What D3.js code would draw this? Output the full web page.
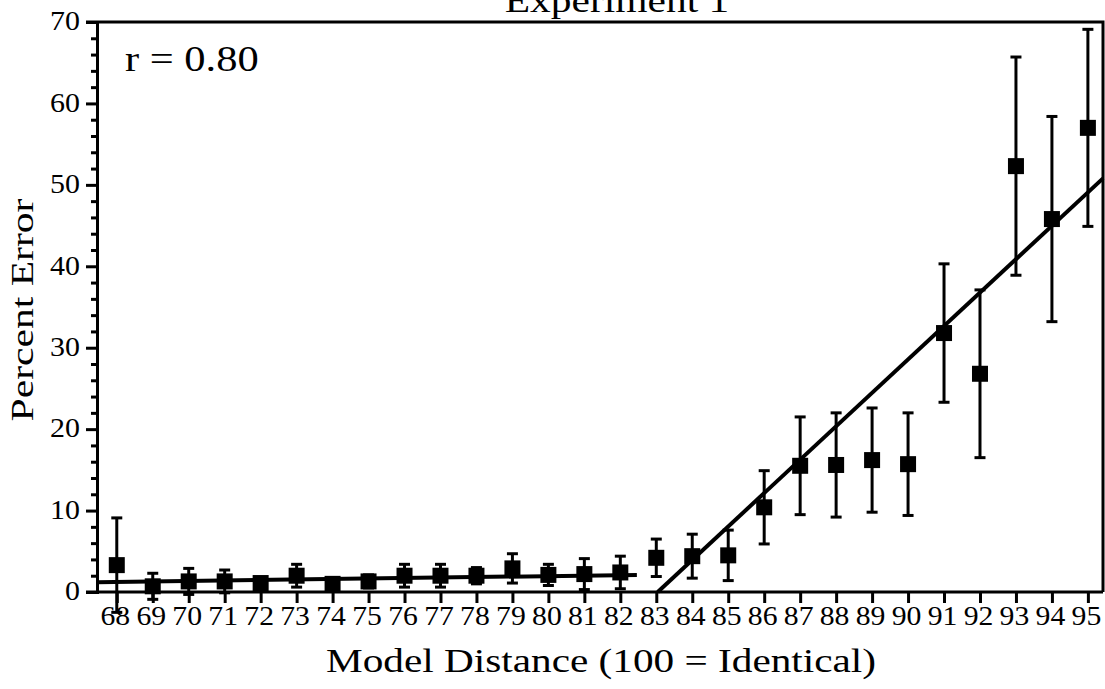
<!DOCTYPE html>
<html>
<head>
<meta charset="utf-8">
<script src="https://cdn.jsdelivr.net/npm/d3@7"></script>
<style>
  body { margin: 0; background: #fff; }
  svg text { font-family: "Liberation Serif", "Times New Roman", serif; fill: #000; }
</style>
</head>
<body>
<svg width="1105" height="689"></svg>
<script>
// Data
const distances = [68, 69, 70, 71, 72, 73, 74, 75, 76, 77, 78, 79, 80, 81,
                   82, 83, 84, 85, 86, 87, 88, 89, 90, 91, 92, 93, 94, 95];
const percentError = [3.3, 0.7, 1.3, 1.3, 1.1, 2.0, 1.0, 1.3, 2.0, 2.0, 2.0, 2.9, 2.1, 2.2,
                      2.4, 4.2, 4.4, 4.5, 10.4, 15.5, 15.6, 16.2, 15.7, 31.8, 26.8, 52.3, 45.8, 57.0];
const errorSize = [5.8, 1.6, 1.6, 1.4, 0.5, 1.4, 0.5, 0.8, 1.4, 1.4, 1.0, 1.8, 1.3, 1.9,
                   2.0, 2.3, 2.7, 3.1, 4.5, 6.0, 6.4, 6.4, 6.3, 8.5, 10.3, 13.4, 12.6, 12.1];
const fitLow = [[67.45, 1.2], [82.46, 2.1]];
const fitHigh = [[83.04, 0], [95.42, 50.8]];
const yTicks = [0, 10, 20, 30, 40, 50, 60, 70];
const yMinor = d3.range(2, 70, 2).filter(function(v) { return v % 10 !== 0; });

const svg = d3.select("svg");
const plotLeft = 97, plotRight = 1103, plotTop = 22, plotBottom = 592;

// Scales
const xScale = d3.scaleLinear().domain([67.45, 95.42]).range([plotLeft, plotRight]);
const yScale = d3.scaleLinear().domain([0, 70]).range([plotBottom, plotTop]);

// Frame (top and right)
svg.append("path")
    .attr("d", "M86," + plotTop + "H" + plotRight + "V" + plotBottom)
    .attr("fill", "none")
    .attr("stroke", "#000")
    .attr("stroke-width", 3);

// Y axis, minor ticks
const yMinorAxis = svg.append("g")
    .attr("transform", "translate(" + plotLeft + ",0)")
    .call(d3.axisLeft(yScale).tickValues(yMinor).tickSize(6).tickSizeOuter(0).tickFormat(""));
yMinorAxis.select(".domain").remove();
yMinorAxis.selectAll(".tick line").attr("x1", 2).attr("stroke-width", 3);

// Y axis, major ticks
const yAxis = svg.append("g")
    .attr("transform", "translate(" + plotLeft + ",0)")
    .call(d3.axisLeft(yScale).tickValues(yTicks).tickSize(11).tickSizeOuter(0).tickPadding(6));
yAxis.select(".domain").attr("stroke-width", 3);
yAxis.selectAll(".tick line").attr("x1", 2).attr("stroke-width", 3);
yAxis.selectAll(".tick text")
    .attr("font-size", 28)
    .attr("font-family", "Liberation Serif")
    .attr("x", -16)
    .attr("dy", "0.28em")
    .attr("transform", "scale(1.07,1)");

// X axis
const xAxis = svg.append("g")
    .attr("transform", "translate(0," + plotBottom + ")")
    .call(d3.axisBottom(xScale).tickValues(distances).tickSize(11).tickSizeOuter(0).tickPadding(3));
xAxis.select(".domain").attr("d", "M86,0H" + plotRight).attr("stroke-width", 3);
xAxis.selectAll(".tick line").attr("stroke-width", 3);
xAxis.selectAll(".tick text")
    .attr("font-size", 27)
    .attr("font-family", "Liberation Serif")
    .attr("transform", "translate(-2,0) scale(1.1,1)");

// Fit lines
const line = d3.line()
    .x(function(d) { return xScale(d[0]); })
    .y(function(d) { return yScale(d[1]); });
[fitLow, fitHigh].forEach(function(seg) {
  svg.append("path")
      .attr("d", line(seg))
      .attr("fill", "none")
      .attr("stroke", "#000")
      .attr("stroke-width", 4);
});

// Error bars
const pts = distances.map(function(d, i) {
  return {x: d, y: percentError[i], e: errorSize[i]};
});
const bars = svg.append("g").attr("stroke", "#000").attr("stroke-width", 3);
pts.forEach(function(p) {
  const cx = xScale(p.x), y0 = yScale(p.y - p.e), y1 = yScale(p.y + p.e);
  bars.append("line").attr("x1", cx).attr("x2", cx).attr("y1", y0).attr("y2", y1);
  bars.append("line").attr("x1", cx - 5.5).attr("x2", cx + 5.5).attr("y1", y1).attr("y2", y1);
  bars.append("line").attr("x1", cx - 5.5).attr("x2", cx + 5.5).attr("y1", y0).attr("y2", y0);
});

// Markers
const size = 16;
svg.append("g").selectAll("rect")
    .data(pts)
    .enter()
    .append("rect")
    .attr("x", function(d) { return xScale(d.x) - size / 2; })
    .attr("y", function(d) { return yScale(d.y) - size / 2; })
    .attr("width", size)
    .attr("height", size)
    .attr("fill", "#000");

// Texts (the original typeface is wide, so glyphs are stretched horizontally)
svg.append("text")
    .attr("transform", "translate(617,12) scale(1.22,1)")
    .attr("text-anchor", "middle")
    .attr("font-size", 34)
    .text("Experiment 1");

svg.append("text")
    .attr("transform", "translate(125,71) scale(1.18,1)")
    .attr("font-size", 36)
    .text("r = 0.80");

svg.append("text")
    .attr("transform", "translate(601,672) scale(1.25,1)")
    .attr("text-anchor", "middle")
    .attr("font-size", 33)
    .text("Model Distance (100 = Identical)");

svg.append("text")
    .attr("transform", "translate(33,310) rotate(-90) scale(1.3,1)")
    .attr("text-anchor", "middle")
    .attr("font-size", 32)
    .text("Percent Error");
</script>
</body>
</html>
